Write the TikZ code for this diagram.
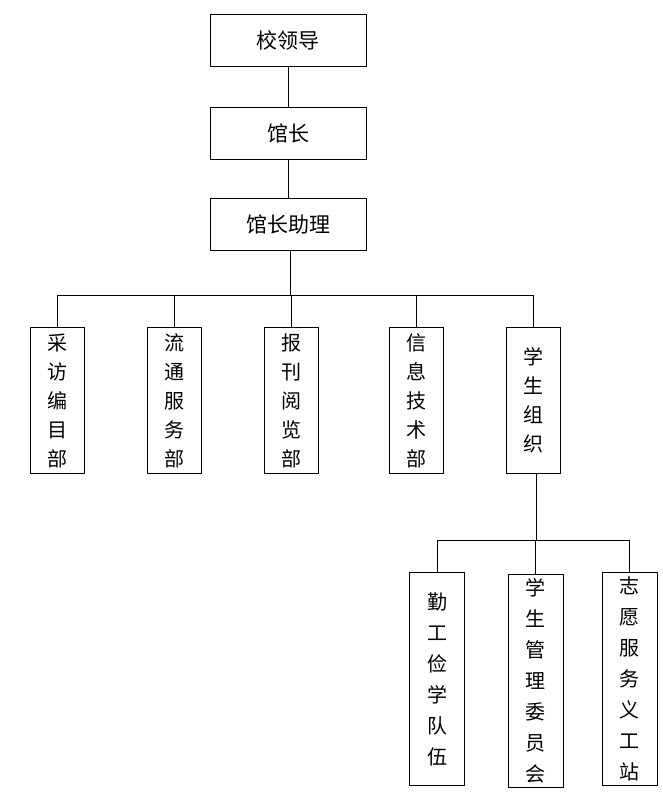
\documentclass[tikz,border=0pt]{standalone}
\usepackage{fontspec}
\newfontfamily\cjk{Noto Sans CJK SC}
\tikzset{
  unitBox/.style = {draw, thick, minimum width=156pt, minimum height=52pt, font=\cjk\fontsize{21}{25}\selectfont},
  deptBox/.style = {draw, thick, minimum width=54pt, minimum height=146pt, align=center, font=\cjk\fontsize{20}{29}\selectfont},
  teamBox/.style = {draw, thick, minimum width=55pt, minimum height=213pt, align=center, font=\cjk\fontsize{20}{31}\selectfont},
  link/.style = {thick}
}
\begin{document}
\begin{tikzpicture}[x=1pt, y=-1pt]
\useasboundingbox (0,0) rectangle (663,796);
\node[unitBox] (lead) at (288,40.5) {校领导};
\node[unitBox] (head) at (288,133) {馆长};
\node[unitBox] (assist) at (288,224) {馆长助理};
\node[deptBox] (d1) at (57.5,400.5) {采\\访\\编\\目\\部};
\node[deptBox] (d2) at (174,400.5) {流\\通\\服\\务\\部};
\node[deptBox] (d3) at (291,400.5) {报\\刊\\阅\\览\\部};
\node[deptBox] (d4) at (416.5,400.5) {信\\息\\技\\术\\部};
\node[deptBox] (d5) at (533.5,400) {学\\生\\组\\织};
\node[teamBox] (t1) at (437,679) {勤\\工\\俭\\学\\队\\伍};
\node[teamBox] (t2) at (535.5,680.5) {学\\生\\管\\理\\委\\员\\会};
\node[teamBox] (t3) at (629.5,679) {志\\愿\\服\\务\\义\\工\\站};
% buses
\coordinate (busA) at (290,295);
\coordinate (busB) at (536,540);
\draw[link] (lead) -- (head);
\draw[link] (head) -- (assist);
\draw[link] (assist.south -| busA) -- (busA);
\foreach \d in {d1,d2,d3,d4,d5}
  \draw[link] (busA -| \d.north) -- (\d.north);
\draw[link] (busA -| d1.north) -- (busA -| d5.north);
\draw[link] (d5.south -| busB) -- (busB);
\foreach \t in {t1,t2,t3}
  \draw[link] (busB -| \t.north) -- (\t.north);
\draw[link] (busB -| t1.north) -- (busB -| t3.north);
\end{tikzpicture}
\end{document}
